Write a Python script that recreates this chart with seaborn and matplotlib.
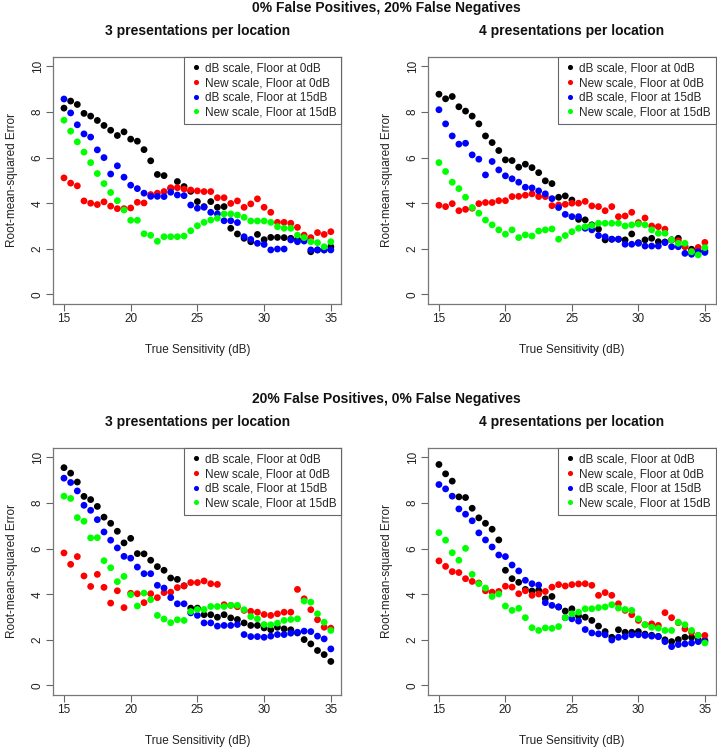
import numpy as np
import pandas as pd
import matplotlib
matplotlib.use('Agg')
import matplotlib.pyplot as plt
import seaborn as sns

# true sensitivity grid (dB)
sens = [15, 15.5, 16, 16.5, 17, 17.5, 18, 18.5, 19, 19.5, 20, 20.5, 21, 21.5,
        22, 22.5, 23, 23.5, 24, 24.5, 25, 25.5, 26, 26.5, 27, 27.5, 28, 28.5,
        29, 29.5, 30, 30.5, 31, 31.5, 32, 32.5, 33, 33.5, 34, 34.5, 35]

methods = ['dB scale, Floor at 0dB', 'New scale, Floor at 0dB',
           'dB scale, Floor at 15dB', 'New scale, Floor at 15dB']
colors = ['#000000', '#ff0000', '#0000ff', '#00ff00']

# 0% FP, 20% FN, 3 presentations
a_db0 = [8.17, 8.48, 8.33, 7.94, 7.82, 7.63, 7.41, 7.20, 6.97, 7.13, 6.81, 6.72, 6.35, 5.86,
         5.26, 5.21, 4.65, 4.95, 4.73, 4.52, 4.07, 3.85, 4.07, 3.82, 3.85, 2.90, 2.65, 2.46,
         2.31, 2.63, 2.40, 2.50, 2.50, 2.49, 2.46, 2.41, 2.43, 1.87, 1.95, 1.95, 2.09]
a_new0 = [5.11, 4.88, 4.76, 4.10, 4.00, 3.94, 4.06, 3.87, 3.76, 3.76, 3.79, 4.04, 4.01, 4.38,
          4.44, 4.51, 4.68, 4.68, 4.62, 4.58, 4.54, 4.51, 4.51, 4.24, 4.24, 3.99, 4.10, 3.82,
          3.97, 4.19, 3.82, 3.60, 3.16, 3.16, 3.12, 2.94, 2.60, 2.49, 2.71, 2.63, 2.75]
a_db15 = [8.57, 7.96, 7.44, 7.04, 6.90, 6.34, 6.00, 5.28, 5.64, 5.14, 4.79, 4.64, 4.44, 4.30,
          4.30, 4.29, 4.48, 4.36, 4.33, 3.92, 3.78, 3.82, 3.60, 3.53, 3.23, 3.23, 3.15, 2.53,
          2.41, 2.24, 2.19, 1.95, 1.99, 1.99, 2.39, 2.31, 2.34, 1.95, 1.95, 1.95, 1.95]
a_new15 = [7.64, 7.16, 6.69, 6.24, 5.78, 5.30, 4.86, 4.47, 4.11, 3.70, 3.25, 3.25, 2.66, 2.59,
           2.33, 2.53, 2.53, 2.53, 2.56, 2.79, 3.01, 3.16, 3.26, 3.34, 3.53, 3.53, 3.48, 3.38,
           3.22, 3.22, 3.22, 3.16, 2.97, 2.90, 2.90, 2.60, 2.49, 2.31, 2.27, 2.09, 2.31]

# 0% FP, 20% FN, 4 presentations
b_db0 = [8.78, 8.58, 8.68, 8.23, 8.04, 7.82, 7.48, 6.95, 6.66, 6.31, 5.90, 5.87, 5.58, 5.71,
         5.56, 5.34, 4.98, 4.86, 4.26, 4.32, 4.14, 3.29, 3.27, 3.05, 2.86, 2.39, 2.42, 2.42,
         2.39, 2.65, 2.27, 2.39, 2.46, 2.31, 2.30, 2.39, 2.46, 2.10, 1.98, 1.90, 1.90]
b_new0 = [3.91, 3.85, 3.98, 3.67, 3.73, 3.78, 3.98, 4.03, 4.03, 4.11, 4.11, 4.29, 4.30, 4.35,
          4.41, 4.29, 4.29, 3.89, 3.92, 3.95, 4.00, 4.00, 4.08, 3.88, 3.85, 3.67, 3.85, 3.41,
          3.44, 3.60, 3.15, 3.35, 3.00, 2.97, 2.86, 2.39, 2.35, 2.10, 1.90, 2.06, 2.28]
b_db15 = [8.10, 7.48, 6.95, 6.59, 6.63, 6.12, 5.93, 5.24, 5.83, 5.46, 5.20, 5.07, 4.92, 4.70,
          4.67, 4.54, 4.41, 4.20, 3.81, 3.51, 3.41, 3.41, 2.90, 2.83, 2.58, 2.53, 2.42, 2.42,
          2.20, 2.20, 2.24, 2.12, 2.12, 2.12, 2.27, 2.09, 2.09, 1.80, 1.76, 1.87, 1.84]
b_new15 = [5.78, 5.39, 4.92, 4.64, 4.26, 3.81, 3.56, 3.26, 3.05, 2.83, 2.64, 2.83, 2.49, 2.61,
           2.56, 2.78, 2.83, 2.87, 2.42, 2.58, 2.75, 2.90, 2.97, 3.02, 3.12, 3.12, 3.12, 3.12,
           3.00, 3.05, 3.09, 3.05, 2.83, 2.68, 2.68, 2.39, 2.24, 2.24, 1.87, 1.73, 2.05]

# 20% FP, 0% FN, 3 presentations
c_db0 = [9.55, 9.31, 8.92, 8.29, 8.15, 7.85, 7.38, 7.11, 6.76, 6.25, 6.45, 5.78, 5.77, 5.49,
         5.21, 5.05, 4.71, 4.65, 4.37, 3.39, 3.39, 3.10, 3.10, 2.99, 3.10, 2.96, 2.89, 2.74,
         2.63, 2.63, 2.52, 2.44, 2.55, 2.48, 2.44, 2.30, 2.01, 1.82, 1.53, 1.35, 1.05]
c_new0 = [5.81, 5.31, 5.65, 4.80, 4.34, 4.87, 4.30, 3.61, 4.15, 3.41, 4.04, 4.02, 3.63, 4.02,
          3.85, 4.07, 4.09, 4.29, 4.36, 4.51, 4.51, 4.58, 4.46, 4.43, 3.54, 3.51, 3.45, 3.29,
          3.25, 3.21, 3.11, 3.07, 3.14, 3.21, 3.21, 4.21, 3.80, 3.32, 2.88, 2.55, 2.51]
c_db15 = [9.09, 8.90, 8.53, 7.90, 7.68, 7.27, 6.73, 6.37, 6.03, 5.66, 5.58, 5.19, 4.90, 4.90,
          4.39, 4.27, 3.85, 3.58, 3.58, 3.18, 3.07, 2.74, 2.74, 2.60, 2.63, 2.63, 2.67, 2.23,
          2.14, 2.14, 2.11, 2.16, 2.23, 2.23, 2.29, 2.33, 2.38, 2.36, 2.16, 2.04, 1.60]
c_new15 = [8.30, 8.20, 7.36, 7.20, 6.47, 6.48, 5.47, 5.16, 4.55, 4.78, 3.98, 3.48, 4.05, 3.76,
           3.07, 2.91, 2.75, 2.88, 2.85, 3.24, 3.33, 3.33, 3.46, 3.46, 3.46, 3.51, 3.51, 3.32,
           3.02, 2.92, 2.67, 2.66, 2.73, 2.85, 2.89, 2.92, 3.70, 3.65, 3.14, 2.77, 2.41]

# 20% FP, 0% FN, 4 presentations
d_db0 = [9.69, 9.28, 8.96, 8.27, 8.24, 7.77, 7.35, 7.11, 6.85, 6.38, 5.05, 4.68, 4.52, 4.21,
         4.14, 4.17, 3.80, 3.90, 3.44, 3.26, 3.36, 3.04, 2.99, 2.85, 2.60, 2.36, 2.11, 2.44,
         2.33, 2.33, 2.36, 2.25, 2.20, 2.15, 2.00, 1.92, 2.01, 2.11, 2.11, 2.00, 1.97]
d_new0 = [5.46, 5.22, 4.99, 4.95, 4.68, 4.56, 4.49, 4.15, 4.09, 4.12, 4.35, 4.31, 4.02, 4.15,
          3.95, 4.01, 4.12, 4.31, 4.42, 4.36, 4.42, 4.45, 4.46, 4.39, 3.95, 4.07, 3.95, 3.58,
          3.29, 3.10, 2.85, 2.66, 2.70, 2.63, 3.19, 2.97, 2.75, 2.48, 2.33, 2.19, 2.19]
d_db15 = [8.81, 8.62, 8.30, 7.74, 7.51, 7.22, 6.69, 6.38, 6.07, 5.72, 5.65, 5.28, 5.02, 4.61,
          4.46, 4.40, 3.63, 3.51, 3.44, 2.97, 2.92, 2.82, 2.45, 2.30, 2.26, 2.22, 1.99, 2.11,
          2.14, 2.22, 2.22, 2.19, 2.16, 2.14, 1.92, 1.70, 1.79, 1.82, 1.86, 1.92, 1.92]
d_new15 = [6.70, 6.37, 5.82, 5.49, 6.01, 4.87, 4.46, 4.27, 3.90, 4.01, 3.48, 3.29, 3.38, 2.97,
           2.53, 2.41, 2.52, 2.50, 2.58, 2.97, 3.14, 3.21, 3.36, 3.36, 3.41, 3.44, 3.54, 3.39,
           3.33, 3.29, 2.92, 2.66, 2.55, 2.51, 2.41, 2.41, 2.77, 2.66, 2.41, 2.19, 1.86]

sns.set_theme(style='ticks')
plt.rcParams['font.family'] = ['Liberation Sans', 'DejaVu Sans']

W, H = 717, 750
fig = plt.figure(figsize=(W / 100, H / 100), dpi=100)

def px_rect(l, r, t, b):
    return [l / W, 1 - b / H, (r - l) / W, (b - t) / H]

panels = [
    ((53.3, 341.5, 57.3, 303.5), [a_db0, a_new0, a_db15, a_new15]),
    ((428.3, 715.5, 57.3, 303.5), [b_db0, b_new0, b_db15, b_new15]),
    ((53.3, 341.5, 448.3, 694.5), [c_db0, c_new0, c_db15, c_new15]),
    ((428.3, 715.5, 448.3, 694.5), [d_db0, d_new0, d_db15, d_new15]),
]
panel_titles = ['3 presentations per location', '4 presentations per location'] * 2

for (box, series), ttl in zip(panels, panel_titles):
    ax = fig.add_axes(px_rect(*box))
    df = pd.DataFrame({
        'sens': sens * 4,
        'rmse': sum(series, []),
        'method': [m for m in methods for _ in sens],
    })
    sns.scatterplot(data=df, x='sens', y='rmse', hue='method', hue_order=methods,
                    palette=colors, s=24, linewidth=0, alpha=1, ax=ax)
    ax.set_xlim(14.2, 35.8)
    ax.set_ylim(-0.4, 10.4)
    ax.set_xticks([15, 20, 25, 30, 35])
    ax.set_yticks([0, 2, 4, 6, 8, 10])
    ax.tick_params(axis='both', direction='out', length=5, width=0.8, color='#666666',
                   labelsize=8.5, pad=2, labelcolor='#222222')
    ax.tick_params(axis='y', labelrotation=90)
    for t in ax.get_yticklabels():
        t.set_va('center')
    for sp in ax.spines.values():
        sp.set_visible(True)
        sp.set_color('#777777')
        sp.set_linewidth(0.9)
    ax.set_xlabel('True Sensitivity (dB)', fontsize=8.5, color='#222222')
    ax.set_ylabel('Root-mean-squared Error', fontsize=8.5, color='#222222')
    ax.xaxis.set_label_coords(0.5, -0.165)
    ax.yaxis.set_label_coords(-0.143, 0.5)
    ax.yaxis.label.set_va('center')

    handles, labs = ax.get_legend_handles_labels()
    leg = ax.legend(handles, labs, loc='upper right', borderaxespad=0, fancybox=False,
                    edgecolor='#666666', framealpha=1, handletextpad=0.1,
                    labelspacing=0.22, borderpad=0.45, markerscale=0.75,
                    handlelength=1.2, fontsize=8.5)
    leg.get_frame().set_linewidth(0.8)

    cx = (box[0] + box[1]) / 2
    fig.text(cx / W, 1 - (box[2] - 26) / H, ttl, ha='center', va='center',
             fontsize=10, fontweight='bold', color='#111111')

fig.text(386 / W, 1 - 8 / H, '0% False Positives, 20% False Negatives',
         ha='center', va='center', fontsize=10, fontweight='bold', color='#111111')
fig.text(386 / W, 1 - 399 / H, '20% False Positives, 0% False Negatives',
         ha='center', va='center', fontsize=10, fontweight='bold', color='#111111')

fig.savefig('out.png', dpi=100, facecolor='white')
